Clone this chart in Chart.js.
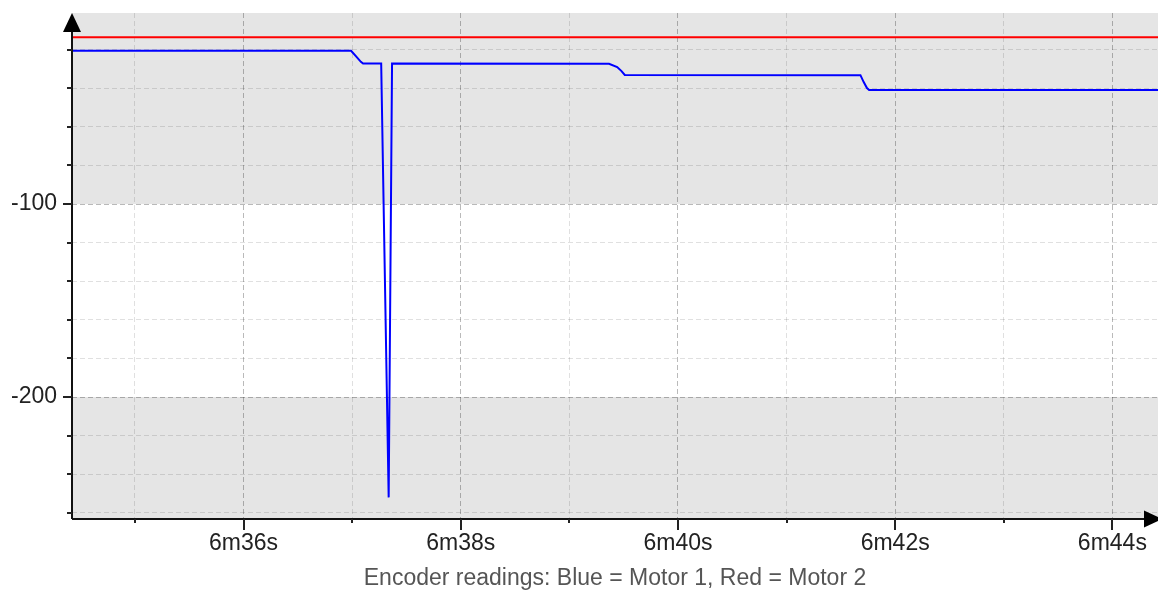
<!DOCTYPE html>
<html lang="en">
<head>
    <meta charset="UTF-8">
    <title>Encoder readings</title>
    <script src="https://cdn.jsdelivr.net/npm/chart.js"></script>
    <style>
        html, body { margin: 0; padding: 0; background: #fff; }
        #wrap { width: 1158px; height: 593px; }
    </style>
</head>
<body>

    <div id="wrap">
        <canvas id="encoderChart" width="1158" height="593"></canvas>
    </div>

    <script>
        // time in seconds since start of run
        var motor1Time = [394.42, 396.99, 397.04, 397.08, 397.10, 397.267, 397.336, 397.367,
                          399.365, 399.44, 399.48, 399.51, 401.68, 401.71, 401.74, 401.76, 404.42];
        var motor1Value = [-20.6, -20.6, -23.7, -26.3, -27.2, -27.2, -252, -27.2,
                           -27.3, -29.0, -31.1, -33.1, -33.2, -36.8, -39.9, -40.9, -40.9];

        var motor2Time = [394.42, 404.42];
        var motor2Value = [-13.6, -13.6];

        var xTickSeconds = [395, 396, 397, 398, 399, 400, 401, 402, 403, 404];
        var yTickValues = [-20, -40, -60, -80, -100, -120, -140, -160, -180, -200, -220, -240, -260];

        var FONT = 'Liberation Sans, Arial, sans-serif';

        function toPoints(xs, ys) {
            var pts = [];
            for (var i = 0; i < xs.length; i++) {
                pts.push({ x: xs[i], y: ys[i] });
            }
            return pts;
        }

        function fmtTime(sec) {
            var m = Math.floor(sec / 60);
            return m + 'm' + (sec - m * 60) + 's';
        }

        // grey / white / grey bands every 100 counts
        var bandPlugin = {
            id: 'bands',
            beforeDraw: function (chart) {
                var ctx = chart.ctx, area = chart.chartArea, y = chart.scales.y;
                ctx.save();
                ctx.fillStyle = '#ffffff';
                ctx.fillRect(0, 0, chart.width, chart.height);
                ctx.fillStyle = '#e5e5e5';
                ctx.fillRect(area.left, area.top, area.right - area.left, area.bottom - area.top);
                var top = y.getPixelForValue(-100), bottom = y.getPixelForValue(-200);
                ctx.fillStyle = '#ffffff';
                ctx.fillRect(area.left, top, area.right - area.left, bottom - top);
                ctx.restore();
            }
        };

        // axis lines with arrow heads and tick marks
        var axisPlugin = {
            id: 'arrowAxes',
            afterDraw: function (chart) {
                var ctx = chart.ctx, area = chart.chartArea;
                var xs = chart.scales.x, ys = chart.scales.y;
                ctx.save();
                ctx.strokeStyle = '#111';
                ctx.fillStyle = '#000';
                ctx.lineWidth = 2;

                ctx.beginPath();
                ctx.moveTo(area.left, area.bottom);
                ctx.lineTo(area.left, area.top + 10);
                ctx.moveTo(area.left, area.bottom);
                ctx.lineTo(area.right - 14, area.bottom);
                ctx.stroke();

                // up arrow
                ctx.beginPath();
                ctx.moveTo(area.left, area.top);
                ctx.lineTo(area.left - 9, area.top + 19);
                ctx.lineTo(area.left + 9, area.top + 19);
                ctx.closePath();
                ctx.fill();

                // right arrow
                ctx.beginPath();
                ctx.moveTo(area.right + 4, area.bottom);
                ctx.lineTo(area.right - 14, area.bottom - 8.5);
                ctx.lineTo(area.right - 14, area.bottom + 8.5);
                ctx.closePath();
                ctx.fill();

                ctx.strokeStyle = '#222';
                ctx.beginPath();
                ys.ticks.forEach(function (t) {
                    var py = Math.round(ys.getPixelForValue(t.value));
                    var len = t.value % 100 === 0 ? 9 : 5;
                    ctx.moveTo(area.left - len, py);
                    ctx.lineTo(area.left, py);
                });
                xs.ticks.forEach(function (t) {
                    var px = Math.round(xs.getPixelForValue(t.value));
                    var len = t.value % 2 === 0 ? 11 : 4;
                    ctx.moveTo(px, area.bottom);
                    ctx.lineTo(px, area.bottom + len);
                });
                ctx.stroke();
                ctx.restore();
            }
        };

        function gridColor(major) {
            return major ? 'rgba(0,0,0,0.27)' : 'rgba(0,0,0,0.12)';
        }

        var ctx = document.getElementById('encoderChart').getContext('2d');
        new Chart(ctx, {
            type: 'line',
            data: {
                datasets: [
                    {
                        label: 'Motor 2',
                        data: toPoints(motor2Time, motor2Value),
                        borderColor: '#ff0000',
                        borderWidth: 2,
                        pointRadius: 0,
                        tension: 0
                    },
                    {
                        label: 'Motor 1',
                        data: toPoints(motor1Time, motor1Value),
                        borderColor: '#0000ff',
                        borderWidth: 2,
                        pointRadius: 0,
                        tension: 0
                    }
                ]
            },
            options: {
                responsive: false,
                animation: false,
                layout: { padding: { top: 13, left: 0, right: 0, bottom: 0 } },
                plugins: {
                    legend: { display: false },
                    tooltip: { enabled: false }
                },
                scales: {
                    x: {
                        type: 'linear',
                        min: 394.42,
                        max: 404.42,
                        afterBuildTicks: function (scale) {
                            scale.ticks = xTickSeconds.map(function (v) { return { value: v }; });
                        },
                        afterFit: function (scale) {
                            scale.height = 74;
                            scale.paddingLeft = 0;
                            scale.paddingRight = 0;
                        },
                        border: { display: false, dash: [5, 3] },
                        grid: {
                            drawTicks: false,
                            color: function (c) { return gridColor(c.tick && c.tick.value % 2 === 0); }
                        },
                        title: {
                            display: true,
                            text: 'Encoder readings: Blue = Motor 1, Red = Motor 2',
                            color: '#555',
                            font: { family: FONT, size: 23 },
                            padding: { top: 0, bottom: 1 }
                        },
                        ticks: {
                            autoSkip: false,
                            maxRotation: 0,
                            padding: 11,
                            color: '#222',
                            font: { family: FONT, size: 23 },
                            callback: function (v) { return v % 2 === 0 ? fmtTime(v) : ''; }
                        }
                    },
                    y: {
                        min: -263.2,
                        max: -1,
                        afterBuildTicks: function (scale) {
                            scale.ticks = yTickValues.map(function (v) { return { value: v }; });
                        },
                        afterFit: function (scale) {
                            scale.width = 72;
                            scale.paddingTop = 0;
                            scale.paddingBottom = 0;
                        },
                        border: { display: false, dash: [5, 3] },
                        grid: {
                            drawTicks: false,
                            color: function (c) { return gridColor(c.tick && c.tick.value % 100 === 0); }
                        },
                        ticks: {
                            autoSkip: false,
                            padding: 15,
                            color: '#222',
                            font: { family: FONT, size: 23 },
                            callback: function (v) { return v % 100 === 0 ? String(v) : ''; }
                        }
                    }
                }
            },
            plugins: [bandPlugin, axisPlugin]
        });
    </script>

</body>
</html>
